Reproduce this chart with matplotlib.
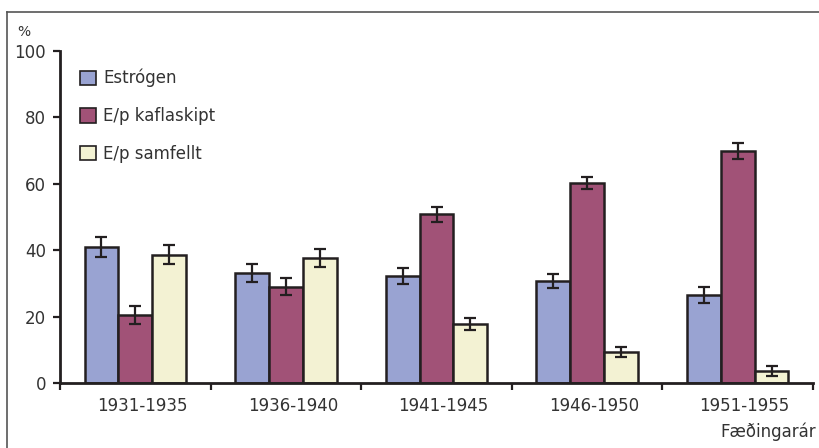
import numpy as np
import matplotlib.pyplot as plt
import matplotlib.transforms as mtransforms
from matplotlib.lines import Line2D

# data
groups = ['1931-1935', '1936-1940', '1941-1945', '1946-1950', '1951-1955']
series = ['Estrógen', 'E/p kaflaskipt', 'E/p samfellt']
estrogen = [41.0, 33.2, 32.2, 30.7, 26.5]
estrogen_err = [3.0, 2.7, 2.3, 2.0, 2.5]
kafla = [20.5, 29.0, 50.8, 60.1, 69.9]
kafla_err = [2.7, 2.5, 2.3, 1.8, 2.3]
samf = [38.7, 37.7, 17.7, 9.2, 3.7]
samf_err = [3.0, 2.8, 1.8, 1.5, 1.5]

colors = ['#99a3d2', '#a15277', '#f3f2d3']
edge = '#231f20'
txt = '#333333'
plt.rcParams['font.family'] = ['DejaVu Sans']

fig = plt.figure(figsize=(8.19, 4.48), dpi=100)
W, H = 819, 448
ax = fig.add_axes([60 / W, (H - 383) / H, (813 - 60) / W, (383 - 51) / H])

x = np.arange(len(groups))
bw = 1 / 4.45
for i, (vals, errs) in enumerate([(estrogen, estrogen_err), (kafla, kafla_err), (samf, samf_err)]):
    pos = x + (i - 1) * bw
    ax.bar(pos, vals, bw, color=colors[i], edgecolor=edge, linewidth=1.8,
           label=series[i], zorder=2)
    ax.errorbar(pos, vals, yerr=errs, fmt='none', ecolor=edge, elinewidth=1.6,
                capsize=4, capthick=1.6, zorder=3)

ax.set_xlim(-0.5, len(groups) - 0.5)
ax.set_ylim(0, 100)
ax.set_yticks(np.arange(0, 101, 20))
ax.set_xticks(np.arange(-0.5, len(groups), 1.0))
ax.set_xticklabels([])
ax.set_xticks(x, minor=True)
ax.set_xticklabels(groups, minor=True)
ax.tick_params(axis='x', which='minor', length=0, pad=10, labelsize=12, labelcolor=txt)
ax.tick_params(axis='x', which='major', length=5, width=1.6, color=edge, direction='out')
ax.tick_params(axis='y', length=5, width=1.6, color=edge, labelsize=12,
               labelcolor=txt, pad=5)
# category labels sit a little right of the group centres in the original
shift = mtransforms.ScaledTranslation(7 / 100, 0, fig.dpi_scale_trans)
for lab in ax.get_xticklabels(minor=True):
    lab.set_transform(lab.get_transform() + shift)

for s in ['top', 'right']:
    ax.spines[s].set_visible(False)
for s in ['left', 'bottom']:
    ax.spines[s].set_linewidth(2)
    ax.spines[s].set_color(edge)

leg = ax.legend(loc='upper left', bbox_to_anchor=(0.0066, 0.991), frameon=False,
                fontsize=12, handlelength=0.95, handleheight=0.95, handletextpad=0.45,
                labelspacing=1.18, labelcolor=txt)
for p in leg.get_patches():
    p.set_linewidth(1.2)

fig.text(17 / W, 1 - 32 / H, '%', fontsize=10, color=txt, va='center')
fig.text(816 / W, 1 - 432 / H, 'Fæðingarár', fontsize=12, color=txt,
         ha='right', va='center')

# frame around the figure (top and left visible)
fig.add_artist(Line2D([7 / W, 1.0], [1 - 12 / H, 1 - 12 / H], transform=fig.transFigure,
                      color='#555555', linewidth=1.2))
fig.add_artist(Line2D([7 / W, 7 / W], [0, 1 - 12 / H], transform=fig.transFigure,
                      color='#555555', linewidth=1.2))

fig.savefig('out.png', dpi=100)
